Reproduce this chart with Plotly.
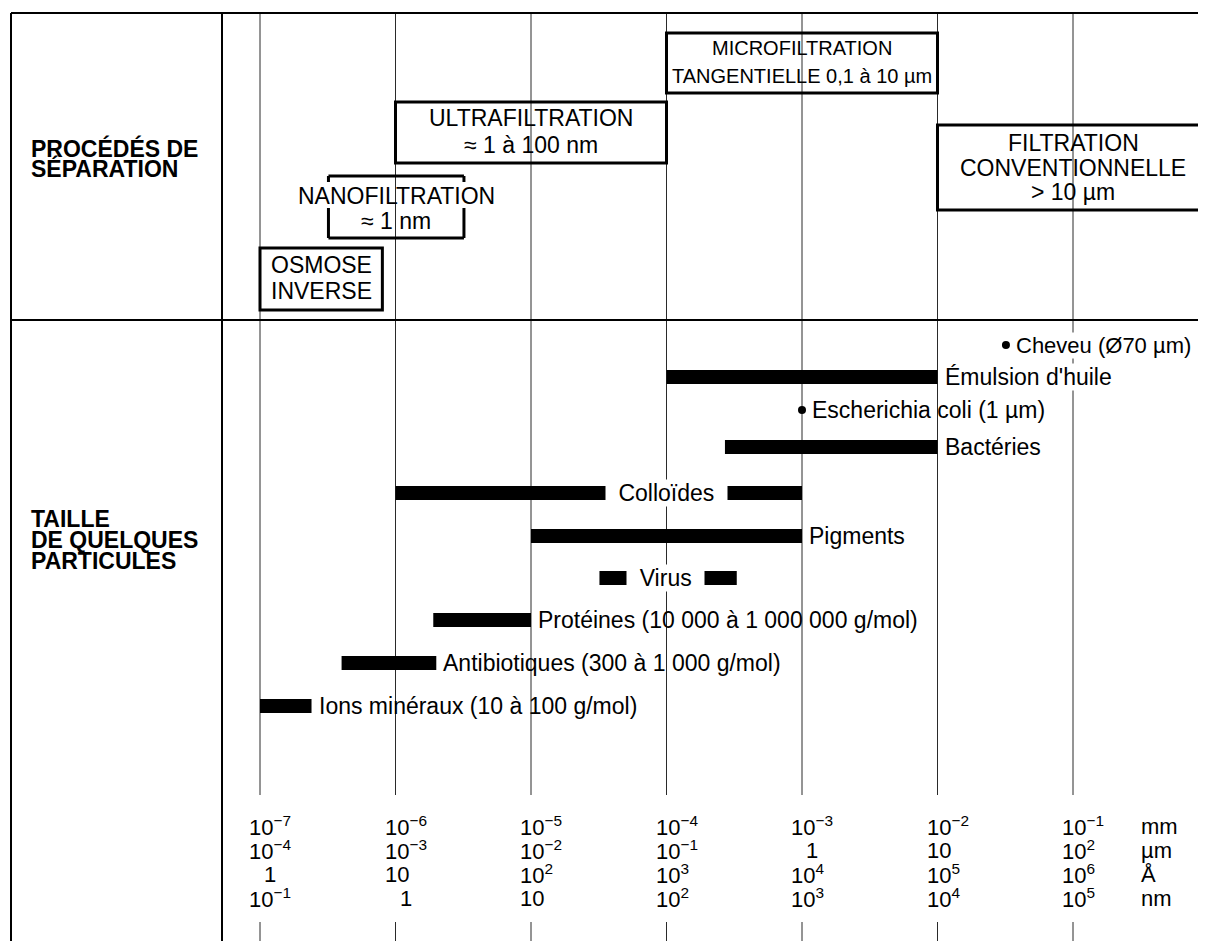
import numpy as np
import plotly.graph_objects as go

# ---------------- data ----------------
decade_mm = [1e-7, 1e-6, 1e-5, 1e-4, 1e-3, 1e-2, 1e-1]
tick_mm = ["10<sup>−7</sup>", "10<sup>−6</sup>", "10<sup>−5</sup>", "10<sup>−4</sup>",
           "10<sup>−3</sup>", "10<sup>−2</sup>", "10<sup>−1</sup>"]
tick_um = ["10<sup>−4</sup>", "10<sup>−3</sup>", "10<sup>−2</sup>", "10<sup>−1</sup>",
           "1", "10", "10<sup>2</sup>"]
tick_A = ["1", "10", "10<sup>2</sup>", "10<sup>3</sup>", "10<sup>4</sup>", "10<sup>5</sup>", "10<sup>6</sup>"]
tick_nm = ["10<sup>−1</sup>", "1", "10", "10<sup>2</sup>", "10<sup>3</sup>", "10<sup>4</sup>", "10<sup>5</sup>"]
unit_labels = ["mm", "µm", "Å", "nm"]

process_lines = [["OSMOSE", "INVERSE"],
                 ["NANOFILTRATION", "≈ 1 nm"],
                 ["ULTRAFILTRATION", "≈ 1 à 100 nm"],
                 ["MICROFILTRATION", "TANGENTIELLE 0,1 à 10 µm"],
                 ["FILTRATION", "CONVENTIONNELLE", "> 10 µm"]]
process_low_mm = [1e-7, 3.2e-7, 1e-6, 1e-4, 1e-2]
process_high_mm = [8e-7, 3.2e-6, 1e-4, 1e-2, 0.93]

particle_labels = ["Cheveu (Ø70 µm)", "Émulsion d'huile", "Escherichia coli (1 µm)", "Bactéries",
                   "Colloïdes", "Pigments", "Virus",
                   "Protéines (10 000 à 1 000 000 g/mol)",
                   "Antibiotiques (300 à 1 000 g/mol)",
                   "Ions minéraux (10 à 100 g/mol)"]
particle_low_mm = [3.2e-2, 1e-4, 1e-3, 2.7e-4, 1e-6, 1e-5, 3.2e-5, 1.9e-6, 4e-7, 1e-7]
particle_high_mm = [3.2e-2, 1e-2, 1e-3, 1e-2, 1e-3, 1e-3, 3.3e-4, 1e-5, 2e-6, 2.4e-7]
# labels written inside the bar (gap in the bar)
label_gap_low_mm = [None, None, None, None, 3.6e-5, None, 5.1e-5, None, None, None]
label_gap_high_mm = [None, None, None, None, 2.8e-4, None, 1.9e-4, None, None, None]

header_top = ["PROCÉDÉS DE", "SÉPARATION"]
header_bottom = ["TAILLE", "DE QUELQUES", "PARTICULES"]

# ---------------- layout constants ----------------
OFF = 8                      # page body margin
W, H = 1206 - OFF, 941 - OFF
PX_PER_DEC = 135.5
X0_LOG = -7 - (260 - OFF) / PX_PER_DEC
X1_LOG = X0_LOG + W / PX_PER_DEC
FONT = "Liberation Sans, Arial, sans-serif"
FS = 22
FS_LABEL = 23
FS_HEAD = 23

row_y = [345, 377, 410, 447, 493, 536, 578, 620, 663, 706]
label_font = [22, FS_LABEL, FS_LABEL, FS_LABEL, FS_LABEL, FS_LABEL, FS_LABEL, FS_LABEL, FS_LABEL, FS_LABEL]
process_box_y = [(248, 310), (176, 238), (102, 163), (33, 93), (125, 210)]
process_text_y = [[265, 291], [196, 221], [118, 145], [48, 76], [143, 168, 192]]
process_font = [23, 23, 23, 20, 23]
tick_rows_y = [826, 850, 874, 898]

fig = go.Figure()
shapes = []
ann = []


def px(xpix):
    """window pixel -> paper fraction"""
    return (xpix - OFF) / W


# frame
shapes += [
    dict(type="line", xref="paper", yref="y", x0=px(11), x1=px(11), y0=13, y1=941, line=dict(color="black", width=2)),
    dict(type="line", xref="paper", yref="y", x0=px(11), x1=1, y0=13, y1=13, line=dict(color="black", width=2)),
    dict(type="line", xref="paper", yref="y", x0=px(222), x1=px(222), y0=13, y1=941, line=dict(color="black", width=2)),
    dict(type="line", xref="paper", yref="y", x0=px(11), x1=1, y0=320, y1=320, line=dict(color="black", width=2)),
]

# grid lines and bottom ticks
for d in decade_mm:
    shapes.append(dict(type="line", xref="x", yref="y", x0=d, x1=d, y0=13, y1=795,
                       line=dict(color="#2a2a2a", width=1), layer="below"))
    shapes.append(dict(type="line", xref="x", yref="y", x0=d, x1=d, y0=922, y1=941,
                       line=dict(color="#2a2a2a", width=1), layer="below"))

# process boxes
for i, (lo, hi) in enumerate(zip(process_low_mm, process_high_mm)):
    y0, y1 = process_box_y[i]
    lw = 3
    if i == 1:  # nanofiltration: bracket pieces around the title
        segs = [(lo, hi, y0, y0), (lo, lo, y0, y0 + 6), (hi, hi, y0, y0 + 6),
                (lo, lo, y0 + 32, y1), (hi, hi, y0 + 32, y1), (lo, hi, y1, y1)]
        for a, b, c, e in segs:
            shapes.append(dict(type="line", xref="x", yref="y", x0=a, x1=b, y0=c, y1=e,
                               line=dict(color="black", width=lw)))
    else:
        shapes.append(dict(type="rect", xref="x", yref="y", x0=lo, x1=hi, y0=y0, y1=y1,
                           line=dict(color="black", width=lw), fillcolor="rgba(0,0,0,0)"))
    xc = (np.log10(lo) + np.log10(hi)) / 2 if i != 4 else np.log10(0.1)
    for line_txt, ty in zip(process_lines[i], process_text_y[i]):
        ann.append(dict(x=xc, y=ty, xref="x", yref="y", text=line_txt, showarrow=False,
                        xanchor="center", yanchor="middle",
                        font=dict(family=FONT, size=process_font[i], color="black")))

# headers
for j, t in enumerate(header_top):
    ann.append(dict(x=px(29), y=148 + 20 * j, xref="paper", yref="y", text="<b>" + t + "</b>",
                    showarrow=False, xanchor="left", yanchor="middle",
                    font=dict(family=FONT, size=FS_HEAD, color="black")))
for j, t in enumerate(header_bottom):
    ann.append(dict(x=px(29), y=519 + 21 * j, xref="paper", yref="y", text="<b>" + t + "</b>",
                    showarrow=False, xanchor="left", yanchor="middle",
                    font=dict(family=FONT, size=FS_HEAD, color="black")))

# particle bars and points
bx, by, mx, my = [], [], [], []
for i, (lo, hi) in enumerate(zip(particle_low_mm, particle_high_mm)):
    y = row_y[i]
    if lo == hi:
        mx.append(lo)
        my.append(y)
    else:
        bx += [lo, hi, None]
        by += [y, y, None]
    if label_gap_low_mm[i] is not None:
        glo, ghi = label_gap_low_mm[i], label_gap_high_mm[i]
        xc = (np.log10(glo) + np.log10(ghi)) / 2
        wpx = (np.log10(ghi) - np.log10(glo)) * PX_PER_DEC
        ann.append(dict(x=xc, y=y, xref="x", yref="y", text=particle_labels[i], showarrow=False,
                        xanchor="center", yanchor="middle", width=wpx, height=26, borderpad=0,
                        bgcolor="white", font=dict(family=FONT, size=label_font[i], color="black")))
    else:
        shift = 9 if lo == hi else 6
        bg = "white" if i < 2 else "rgba(0,0,0,0)"
        ann.append(dict(x=np.log10(hi), y=y, xref="x", yref="y", text=particle_labels[i],
                        showarrow=False, xanchor="left", yanchor="middle", xshift=shift,
                        bgcolor=bg, borderpad=0,
                        font=dict(family=FONT, size=label_font[i], color="black")))

fig.add_trace(go.Scatter(x=bx, y=by, mode="lines", line=dict(color="black", width=14),
                         connectgaps=False, hoverinfo="skip", showlegend=False))
fig.add_trace(go.Scatter(x=mx, y=my, mode="markers", marker=dict(color="black", size=8),
                         hoverinfo="skip", showlegend=False))

# tick labels
for rows, ty in zip([tick_mm, tick_um, tick_A, tick_nm], tick_rows_y):
    for d, t in zip(decade_mm, rows):
        single = (t == "1")
        ann.append(dict(x=np.log10(d), y=ty, xref="x", yref="y", text=t, showarrow=False,
                        xanchor="left", yanchor="middle", xshift=(2 if single else -13),
                        font=dict(family=FONT, size=FS, color="black")))
for u, ty in zip(unit_labels, tick_rows_y):
    ann.append(dict(x=px(1139), y=ty, xref="paper", yref="y", text=u, showarrow=False,
                    xanchor="left", yanchor="middle",
                    font=dict(family=FONT, size=FS, color="black")))

fig.update_layout(
    width=W, height=H, margin=dict(l=0, r=0, t=0, b=0),
    paper_bgcolor="white", plot_bgcolor="white",
    xaxis=dict(type="log", range=[X0_LOG, X1_LOG], visible=False, fixedrange=True),
    yaxis=dict(range=[941, OFF], visible=False, fixedrange=True),
    shapes=shapes, annotations=ann, showlegend=False,
)

fig.write_html("out.html")
